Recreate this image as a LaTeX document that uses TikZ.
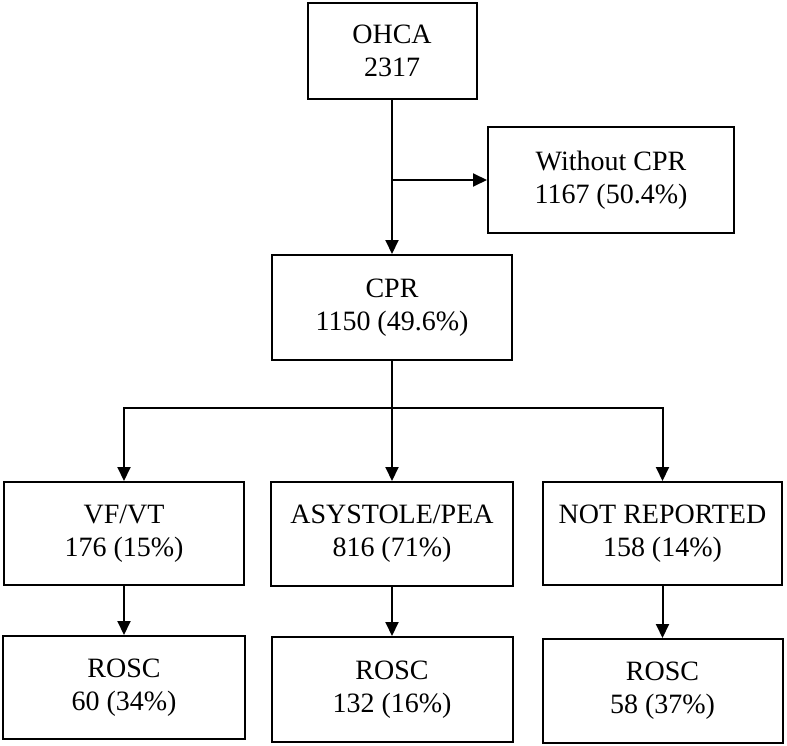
\documentclass[tikz,border=0pt]{standalone}
\usepackage{fontspec}
\setmainfont{Liberation Serif}
\usetikzlibrary{arrows.meta}
\begin{document}
\begin{tikzpicture}[x=1pt,y=-1pt,
  box/.style={draw,line width=2pt,align=center,inner sep=0pt,
    font=\fontsize{28}{33}\selectfont},
  arr/.style={line width=2pt,-{Triangle[length=14pt,width=13pt]}},
  ln/.style={line width=2pt}]
\useasboundingbox (0,0) rectangle (787,746);
\node[box,minimum width=169pt,minimum height=96pt] (ohca) at (392,51) {OHCA\\2317};
\node[box,minimum width=246pt,minimum height=106pt] (wo) at (611,180) {Without CPR\\1167 (50.4\%)};
\node[box,minimum width=240pt,minimum height=105pt] (cpr) at (392,307.5) {CPR\\1150 (49.6\%)};
\node[box,minimum width=240pt,minimum height=103pt] (vf) at (124,533.5) {VF/VT\\176 (15\%)};
\node[box,minimum width=242pt,minimum height=104pt] (asy) at (392,534) {ASYSTOLE/PEA\\816 (71\%)};
\node[box,minimum width=239pt,minimum height=103pt] (nr) at (662.5,533.5) {NOT REPORTED\\158 (14\%)};
\node[box,minimum width=242pt,minimum height=103pt] (r1) at (124,687.5) {ROSC\\60 (34\%)};
\node[box,minimum width=241pt,minimum height=105pt] (r2) at (392,689.5) {ROSC\\132 (16\%)};
\node[box,minimum width=240pt,minimum height=104pt] (r3) at (662.5,691) {ROSC\\58 (37\%)};
\coordinate (bus) at (392,408);
\draw[arr] (ohca.south) -- (cpr.north);
\draw[arr] (ohca.south |- wo.west) -- (wo.west);
\draw[ln] (cpr.south) -- (bus);
\draw[arr] (bus) -- (asy.north);
\draw[arr] (bus) -| (vf.north);
\draw[arr] (bus) -| (nr.north);
\draw[arr] (vf.south) -- (r1.north);
\draw[arr] (asy.south) -- (r2.north);
\draw[arr] (nr.south) -- (r3.north);
\end{tikzpicture}
\end{document}
